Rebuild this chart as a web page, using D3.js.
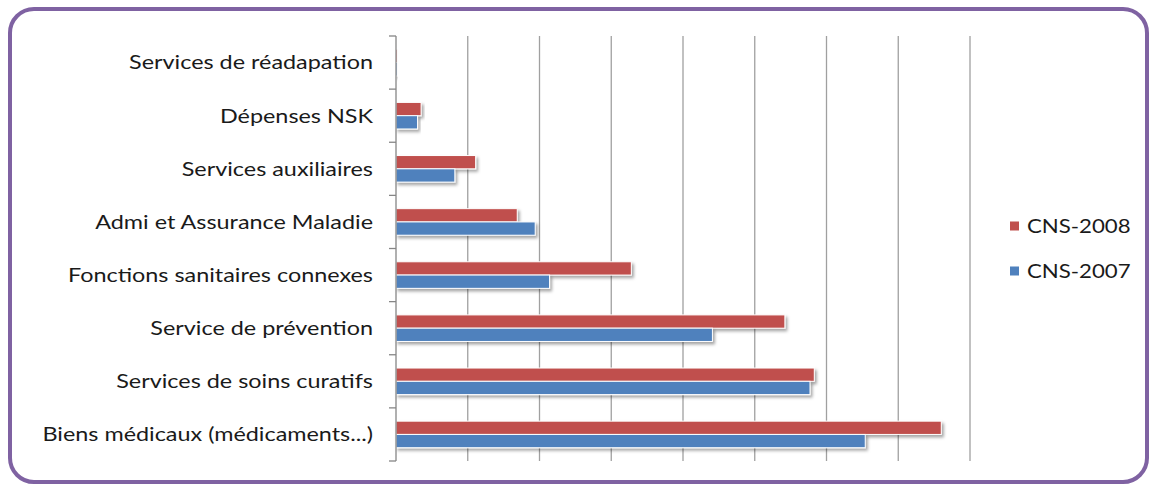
<!DOCTYPE html>
<html>
<head>
<meta charset="utf-8">
<script src="https://cdn.jsdelivr.net/npm/d3@7"></script>
<style>
  html, body { margin: 0; padding: 0; background: #ffffff; }
  svg { display: block; }
</style>
</head>
<body>
<svg id="chart" width="1151" height="485"></svg>
<script>
// ---- data (top = first) ----
const categories = [
  "Services de réadapation",
  "Dépenses NSK",
  "Services auxiliaires",
  "Admi et Assurance Maladie",
  "Fonctions sanitaires connexes",
  "Service de prévention",
  "Services de soins curatifs",
  "Biens médicaux (médicaments...)"
];
const seriesNames = ["CNS-2008", "CNS-2007"];
const cns2008 = [0.02, 0.35, 1.11, 1.69, 3.28, 5.42, 5.83, 7.60];
const cns2007 = [0.02, 0.30, 0.82, 1.94, 2.14, 4.41, 5.77, 6.54];
const seriesColors = ["#C0504D", "#4F81BD"];
const xTicks = [0, 1, 2, 3, 4, 5, 6, 7, 8];

const svg = d3.select("#chart");
const defs = svg.append("defs");
const f = defs.append("filter").attr("id", "shadow")
  .attr("x", "-5%").attr("y", "-30%").attr("width", "120%").attr("height", "180%");
f.append("feDropShadow").attr("dx", 2).attr("dy", 2.5).attr("stdDeviation", 1.6)
  .attr("flood-color", "#000").attr("flood-opacity", 0.35);

// frame
svg.append("rect").attr("x", 10).attr("y", 9).attr("width", 1137).attr("height", 473)
  .attr("rx", 24).attr("ry", 24)
  .attr("fill", "#fff").attr("stroke", "#7F62A2").attr("stroke-width", 4);

const plot = { left: 396, right: 970, top: 36, bottom: 461 };

const x = d3.scaleLinear().domain([0, 8]).range([plot.left, plot.right]);
const y = d3.scaleBand().domain(categories).range([plot.top, plot.bottom])
  .paddingInner(0.5).paddingOuter(0.25);
const yOuter = d3.scaleBand().domain(categories).range([plot.top, plot.bottom]);
const ySub = d3.scaleBand().domain(seriesNames).range([0, y.bandwidth()]);

// gridlines
svg.append("g").selectAll("line").data(xTicks.slice(1)).join("line")
  .attr("x1", d => x(d)).attr("x2", d => x(d))
  .attr("y1", plot.top).attr("y2", plot.bottom)
  .attr("stroke", "#A0A0A0").attr("stroke-width", 1.3);

// bars
const seriesData = [cns2008, cns2007];
seriesData.forEach((vals, si) => {
  svg.append("g").selectAll("rect").data(categories).join("rect")
    .attr("x", x(0))
    .attr("y", (c) => y(c) + ySub(seriesNames[si]))
    .attr("width", (c, i) => Math.max(0.8, x(vals[i]) - x(0)))
    .attr("height", ySub.bandwidth())
    .attr("fill", seriesColors[si])
    .attr("stroke", "#fff").attr("stroke-width", 1)
    .attr("filter", "url(#shadow)");
});

// y axis line + ticks at category boundaries
const boundaries = categories.map(c => yOuter(c)).concat([plot.bottom]);
const axisG = svg.append("g");
axisG.append("line").attr("x1", plot.left).attr("x2", plot.left)
  .attr("y1", plot.top).attr("y2", plot.bottom)
  .attr("stroke", "#868686").attr("stroke-width", 1.3);
axisG.selectAll("line.tk").data(boundaries).join("line").attr("class", "tk")
  .attr("x1", plot.left - 7).attr("x2", plot.left)
  .attr("y1", d => d).attr("y2", d => d)
  .attr("stroke", "#868686").attr("stroke-width", 1.3);

// category labels (font horizontally widened like the original)
const labelScale = 1.20;
svg.append("g").selectAll("text").data(categories).join("text")
  .attr("transform", c => `translate(373,${yOuter(c) + yOuter.bandwidth() / 2}) scale(${labelScale},1)`)
  .attr("dy", "0.35em")
  .attr("text-anchor", "end")
  .attr("font-family", "Lato, 'Open Sans', sans-serif")
  .attr("font-size", 19.5)
  .attr("fill", "#1a1a1a")
  .text(d => d);

// legend
const legend = svg.append("g");
const legendY = [226, 271];
const legendScale = 1.14;
seriesNames.forEach((n, i) => {
  legend.append("rect").attr("x", 1010).attr("y", legendY[i] - 4.5)
    .attr("width", 9).attr("height", 9).attr("fill", seriesColors[i]);
  legend.append("text")
    .attr("transform", `translate(1027,${legendY[i]}) scale(${legendScale},1)`)
    .attr("dy", "0.35em")
    .attr("font-family", "Lato, 'Open Sans', sans-serif").attr("font-size", 19.5)
    .attr("fill", "#1a1a1a").text(n);
});
</script>
</body>
</html>
